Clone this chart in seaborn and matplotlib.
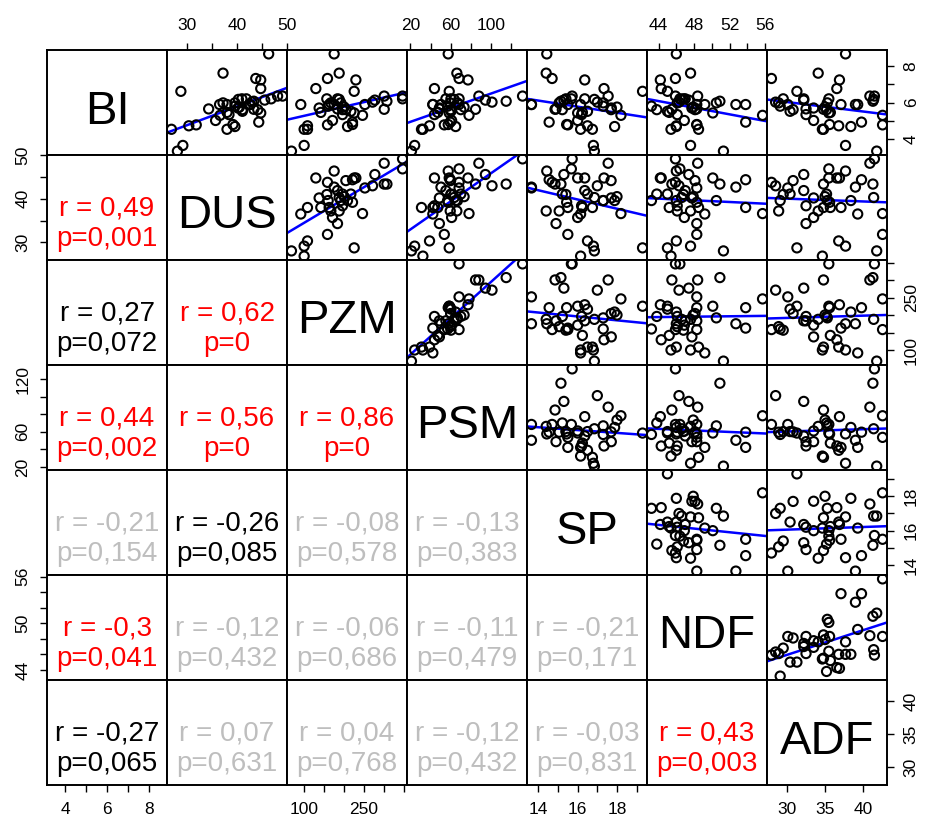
import pandas as pd
import seaborn as sns
import matplotlib.pyplot as plt

# Назви змінних (діагональ матриці)
names = ["BI", "DUS", "PZM", "PSM", "SP", "NDF", "ADF"]

# Значення, зчитані з діаграм розсіювання
bi = [3.35, 3.66, 4.73, 4.54, 5.89, 4.54, 6.76, 7.31, 8.65, 5.70,
      5.46, 6.20, 5.80, 5.89, 5.98, 4.78, 5.89, 6.20, 6.17, 5.98,
      5.61, 5.75, 5.61, 4.69, 5.52, 4.93, 5.43, 7.23, 5.65, 5.02,
      7.60, 5.34, 4.80, 5.30, 6.61, 5.89, 6.02, 6.13, 6.35, 5.63,
      6.07, 6.35, 6.20]
dus = [28.0, 29.1, 30.3, 26.8, 36.5, 38.0, 44.8, 43.8, 46.4, 40.2,
       38.0, 41.0, 39.6, 38.0, 37.2, 31.8, 42.7, 41.9, 40.3, 39.6,
       41.1, 40.5, 44.2, 39.6, 41.1, 44.4, 44.8, 44.8, 34.3, 35.7,
       37.2, 38.4, 39.2, 36.6, 28.7, 42.5, 43.0, 45.6, 48.2, 43.4,
       43.4, 49.2, 46.9]
pzm = [68.8, 100.6, 109, 100.6, 92.2, 109, 129.9, 159.1, 175.8, 138.2,
       142.4, 157.4, 160.8, 163.3, 167.5, 159.1, 175.8, 184.2, 188.4, 192.6,
       196.7, 200.9, 205.1, 209.3, 217.6, 221.8, 226, 230.2, 184.2, 171.7,
       188.4, 196.7, 221.8, 246.9, 226, 252.8, 272, 277.8, 301.2, 301.2,
       308, 347.2, 347.2]
psm = [21.0, 24.2, 39.0, 32.4, 42.3, 31.0, 43.9, 68.4, 57.6, 48.8,
       47.2, 60.3, 57.0, 42.3, 59.6, 53.7, 50.4, 55.3, 63.5, 66.8,
       70.1, 73.4, 60.0, 65.0, 60.3, 59.6, 58.6, 77.3, 48.8, 61.0,
       66.2, 43.9, 57.6, 78.3, 58.6, 68.4, 101.2, 94.6, 88.1, 84.8,
       115.3, 131.6, 68.4]
sp = [16.85, 16.8, 16.5, 16.15, 16.15, 16.75, 17.34, 14.7, 14.43, 17.71,
      16.24, 15.4, 17.3, 15.5, 15.06, 15.5, 13.65, 16.36, 16.85, 17.3,
      15.22, 18.0, 17.7, 17.88, 16.5, 14.55, 16.0, 16.36, 14.9, 16.0,
      14.4, 16.2, 15.44, 18.2, 19.3, 13.65, 17.0, 15.3, 17.55, 14.85,
      15.15, 15.72, 15.68]
ndf = [51.3, 47.6, 46.0, 45.4, 49.2, 48.5, 44.3, 45.9, 46.0, 47.75,
       45.2, 46.8, 43.2, 53.8, 46.1, 48.3, 52.7, 47.0, 46.6, 50.5,
       43.8, 47.9, 48.1, 46.0, 45.0, 53.8, 50.1, 44.2, 48.3, 46.9,
       47.6, 46.1, 48.3, 55.7, 45.0, 48.3, 46.3, 47.4, 48.4, 45.5,
       50.9, 45.9, 46.4]
adf = [41.8, 37.7, 36.8, 34.65, 39.3, 34.8, 36.55, 27.95, 37.7, 33.5,
       35.7, 29.5, 29.1, 37.1, 28.9, 42.57, 39.0, 32.2, 41.4, 35.3,
       35.2, 35.0, 30.8, 38.4, 30.4, 39.8, 35.5, 36.9, 32.5, 33.5,
       34.1, 32.5, 35.6, 42.57, 31.3, 30.1, 28.5, 32.2, 40.9, 34.8,
       41.3, 41.5, 35.5]

# Кореляції для нижнього трикутника (по рядках)
r_text = ["0,49",
          "0,27", "0,62",
          "0,44", "0,56", "0,86",
          "-0,21", "-0,26", "-0,08", "-0,13",
          "-0,3", "-0,12", "-0,06", "-0,11", "-0,21",
          "-0,27", "0,07", "0,04", "-0,12", "-0,03", "0,43"]
p_text = ["0,001",
          "0,072", "0",
          "0,002", "0", "0",
          "0,154", "0,085", "0,578", "0,383",
          "0,041", "0,432", "0,686", "0,479", "0,171",
          "0,065", "0,631", "0,768", "0,432", "0,831", "0,003"]

# Поділки осей та підписи (горизонтальні / вертикальні)
ticks = {"BI": [4, 5, 6, 7, 8], "DUS": [30, 35, 40, 45, 50],
         "PZM": [100, 150, 200, 250, 300, 350], "PSM": [20, 40, 60, 80, 100, 120],
         "SP": [14, 15, 16, 17, 18, 19], "NDF": [44, 46, 48, 50, 52, 54, 56],
         "ADF": [30, 35, 40]}
x_labels = {"BI": [4, 6, 8], "DUS": [30, 40, 50], "PZM": [100, 250],
            "PSM": [20, 60, 100], "SP": [14, 16, 18], "NDF": [44, 48, 52, 56],
            "ADF": [30, 35, 40]}
y_labels = {"BI": [4, 6, 8], "DUS": [30, 40, 50], "PZM": [100, 250],
            "PSM": [20, 60, 120], "SP": [14, 16, 18], "NDF": [44, 50, 56],
            "ADF": [30, 35, 40]}


def upper_panel(x, y, **kws):
    """Діаграма розсіювання з лінією регресії."""
    sns.regplot(x=x, y=y, ax=plt.gca(), ci=None, truncate=False,
                scatter_kws=dict(s=44, facecolors="none", edgecolors="black",
                                 linewidths=1.5, alpha=1, zorder=3),
                line_kws=dict(color="blue", lw=1.8, zorder=2))


def p_color(p):
    val = float(p.replace(",", "."))
    if val < 0.05:
        return "red"
    if val < 0.1:
        return "black"
    return "#bebebe"


sns.set_style("white")
plt.rcParams["font.family"] = ["Liberation Sans", "DejaVu Sans"]
plt.rcParams.update({"axes.edgecolor": "black", "axes.linewidth": 1.4,
                     "xtick.color": "black", "ytick.color": "black",
                     "text.color": "black"})

df = pd.DataFrame({"BI": bi, "DUS": dus, "PZM": pzm, "PSM": psm,
                   "SP": sp, "NDF": ndf, "ADF": adf})
n = len(names)

g = sns.PairGrid(df, vars=names, despine=False, height=1.2)
g.figure.set_size_inches(9.3, 8.25)
g.figure.subplots_adjust(left=47 / 930, right=887 / 930, bottom=1 - 785 / 825,
                         top=1 - 50 / 825, wspace=0, hspace=0)

# межі осей як у R (4% запасу)
lims = {}
for v in names:
    lo, hi = df[v].min(), df[v].max()
    pad = 0.04 * (hi - lo)
    lims[v] = (lo - pad, hi + pad)
for i in range(n):
    for j in range(n):
        g.axes[i, j].set_xlim(lims[names[j]])
        g.axes[i, j].set_ylim(lims[names[i]])

g.map_upper(upper_panel)

# діагональ - назви змінних
for i, v in enumerate(names):
    g.axes[i, i].text(0.5, 0.30, v, transform=g.axes[i, i].transAxes,
                      ha="center", va="baseline", fontsize=34)

# нижній трикутник - r та p
k = 0
for i in range(1, n):
    for j in range(i):
        ax = g.axes[i, j]
        col = p_color(p_text[k])
        ax.text(0.5, 0.425, "r = " + r_text[k], transform=ax.transAxes,
                ha="center", va="baseline", fontsize=20, color=col)
        ax.text(0.5, 0.135, "p=" + p_text[k], transform=ax.transAxes,
                ha="center", va="baseline", fontsize=20, color=col)
        k += 1

for ax in g.axes.flat:
    ax.set_xlabel("")
    ax.set_ylabel("")
    ax.tick_params(which="both", bottom=False, top=False, left=False, right=False,
                   labelbottom=False, labeltop=False, labelleft=False,
                   labelright=False, length=5, width=1, labelsize=12.5, pad=7)

# осі по колу як у pairs()
for j, v in enumerate(names):
    tk = ticks[v]
    g.axes[0, j].set_xticks(tk, [str(t) if t in x_labels[v] else "" for t in tk])
    if j % 2 == 1:
        g.axes[0, j].tick_params(axis="x", top=True, labeltop=True)
    else:
        g.axes[n - 1, j].tick_params(axis="x", bottom=True, labelbottom=True)

for i, v in enumerate(names):
    tk = ticks[v]
    g.axes[i, 0].set_yticks(tk, [str(t) if t in y_labels[v] else "" for t in tk])
    if i % 2 == 1:
        ax = g.axes[i, 0]
        ax.tick_params(axis="y", left=True, labelleft=True, labelrotation=90)
    else:
        ax = g.axes[i, n - 1]
        ax.tick_params(axis="y", right=True, labelright=True, labelrotation=90)
    for lab in ax.yaxis.get_majorticklabels():
        lab.set_va("center")

g.figure.savefig("out.png", dpi=100)
